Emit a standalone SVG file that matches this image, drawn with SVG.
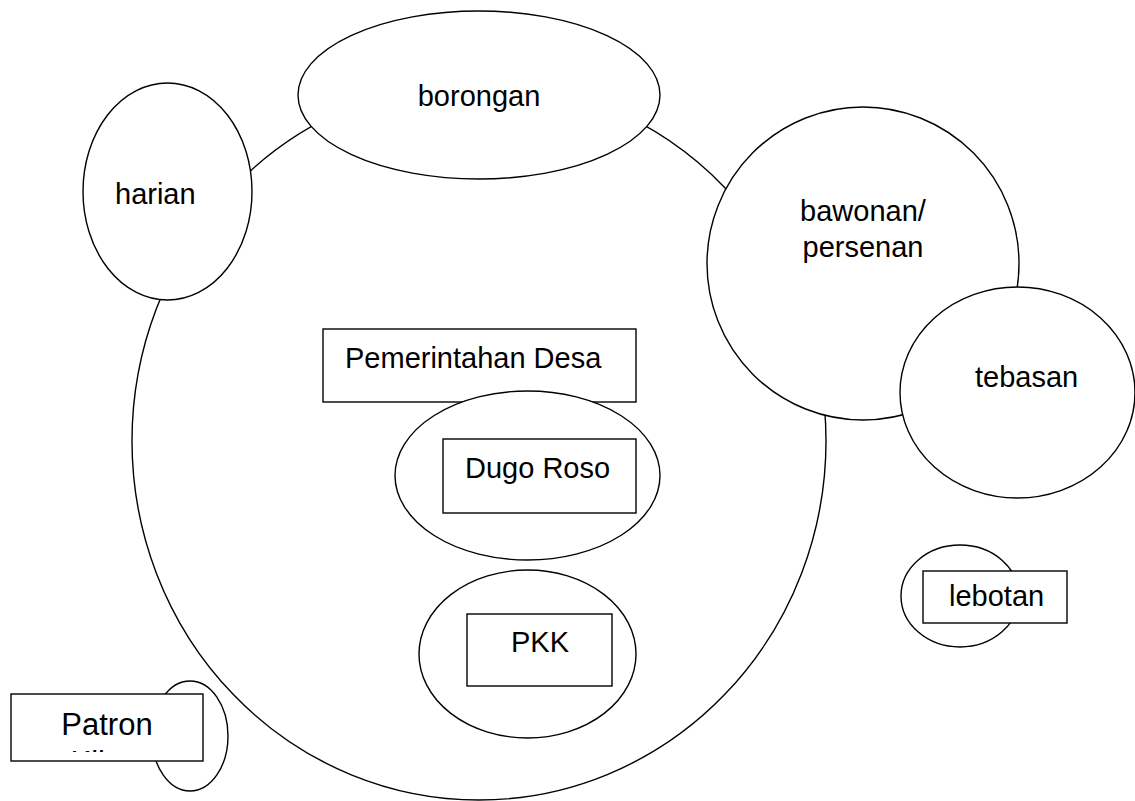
<svg xmlns="http://www.w3.org/2000/svg" width="1135" height="801" viewBox="0 0 1135 801">
<defs>
<style>
.s{fill:#fff;stroke:#000;stroke-width:1.4}
.t{font-family:"Liberation Sans",Arial,sans-serif;font-size:29px;fill:#000}
</style>
<clipPath id="pc"><rect x="11" y="694" width="192" height="58"/></clipPath>
</defs>
<rect width="1135" height="801" fill="#fff"/>
<g id="connectors">
<ellipse class="s" cx="479" cy="441" rx="347" ry="359"/>
</g>
<g id="harian">
<ellipse class="s" cx="167.5" cy="191.5" rx="84.5" ry="108.5"/>
<text class="t" x="115" y="204">harian</text>
</g>
<g id="borongan">
<ellipse class="s" cx="479" cy="95" rx="181" ry="84"/>
<text class="t" x="479" y="106" text-anchor="middle">borongan</text>
</g>
<g id="bawonan">
<ellipse class="s" cx="863" cy="263.5" rx="156" ry="156.5"/>
<text class="t" x="863" y="221" text-anchor="middle">bawonan/</text>
<text class="t" x="863" y="257" text-anchor="middle">persenan</text>
</g>
<g id="tebasan">
<ellipse class="s" cx="1017.5" cy="392.5" rx="117.5" ry="105.5"/>
<text class="t" x="975" y="387">tebasan</text>
</g>
<g id="pemerintahan">
<rect class="s" x="323" y="329" width="313" height="73"/>
<text class="t" x="345" y="368">Pemerintahan Desa</text>
</g>
<g id="dugo-roso">
<ellipse class="s" cx="527.5" cy="475.5" rx="132.5" ry="84.5"/>
<rect class="s" x="443" y="439" width="193" height="74"/>
<text class="t" x="465" y="478">Dugo Roso</text>
</g>
<g id="pkk">
<ellipse class="s" cx="527.5" cy="654" rx="108.5" ry="84"/>
<rect class="s" x="467" y="614" width="145" height="72"/>
<text class="t" x="511" y="652">PKK</text>
</g>
<g id="lebotan">
<ellipse class="s" cx="960" cy="596" rx="59" ry="51"/>
<rect class="s" x="923" y="571" width="144" height="52"/>
<text class="t" x="949" y="606">lebotan</text>
</g>
<g id="patron">
<ellipse class="s" cx="190" cy="736" rx="38" ry="55"/>
<rect class="s" x="11" y="694" width="192" height="67"/>
<text class="t" x="107" y="735" text-anchor="middle" style="font-size:31px">Patron</text>
<text class="t" x="105" y="773" text-anchor="middle" style="font-size:31px" clip-path="url(#pc)">Klien</text>
</g>
</svg>
